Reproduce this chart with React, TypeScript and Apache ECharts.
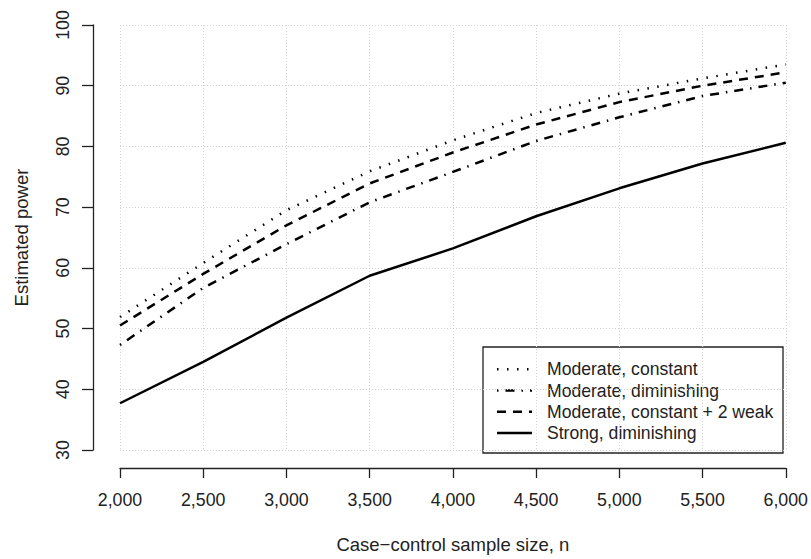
import React, { useEffect, useRef } from "react";
import * as echarts from "echarts";

const sampleSizes = [2000, 2500, 3000, 3500, 4000, 4500, 5000, 5500, 6000];
const moderateConstant = [51.9, 60.8, 69.5, 75.9, 81.0, 85.5, 88.7, 91.2, 93.5];
const moderateDiminishing = [47.3, 56.7, 63.9, 70.8, 75.8, 80.9, 84.8, 88.3, 90.5];
const moderateConstantWeak = [50.5, 59.0, 67.0, 73.9, 79.0, 83.6, 87.3, 90.0, 92.2];
const strongDiminishing = [37.7, 44.5, 51.8, 58.7, 63.2, 68.5, 73.1, 77.2, 80.6];

const seriesNames = [
  "Moderate, constant",
  "Moderate, diminishing",
  "Moderate, constant + 2 weak",
  "Strong, diminishing",
];
const seriesValues = [moderateConstant, moderateDiminishing, moderateConstantWeak, strongDiminishing];
const dashTypes: any[] = [[1.5, 8.5], [1.5, 7, 9, 7], [9, 7], null];

const FONT = "'Liberation Sans', Arial, Helvetica, sans-serif";
const INK = "#222";

export default function App() {
  const ref = useRef<HTMLDivElement>(null);
  useEffect(() => {
    if (!ref.current) return;
    const chart = echarts.init(ref.current, undefined, { renderer: "svg" });

    const legendLeft = 483;
    const legendTop = 347;
    const legendW = 300;
    const legendH = 106;
    const rowY0 = 369.3;
    const rowStep = 21.2;
    const legendChildren: any[] = [
      {
        type: "rect",
        shape: { x: legendLeft, y: legendTop, width: legendW, height: legendH },
        style: { fill: "#fff", stroke: INK, lineWidth: 1.3 },
      },
    ];
    seriesNames.forEach((name, i) => {
      const y = rowY0 + i * rowStep;
      legendChildren.push({
        type: "line",
        shape: { x1: 497, y1: y, x2: 532, y2: y },
        style: {
          stroke: "#000",
          lineWidth: 2.5,
          lineDash: dashTypes[i] || undefined,
        },
      });
      legendChildren.push({
        type: "text",
        x: 547,
        y,
        style: {
          text: name,
          fontSize: 17.6,
          fontFamily: FONT,
          fill: INK,
          verticalAlign: "middle",
          align: "left",
        },
      });
    });

    const option: any = {
      animation: false,
      backgroundColor: "#fff",
      textStyle: { fontFamily: FONT },
      grid: { left: 120, right: 22, top: 25, bottom: 101, containLabel: false },
      xAxis: {
        type: "value",
        min: 2000,
        max: 6000,
        interval: 500,
        offset: 18,
        name: "Case\u2212control sample size, n",
        nameLocation: "middle",
        nameGap: 67,
        nameTextStyle: { fontSize: 18.5, color: INK, fontFamily: FONT },
        axisLine: { show: true, lineStyle: { color: INK, width: 1.3 } },
        axisTick: { show: true, length: 10, inside: false, lineStyle: { color: INK, width: 1.3 } },
        axisLabel: {
          fontSize: 17.8,
          color: INK,
          fontFamily: FONT,
          margin: 23,
          showMinLabel: true,
          showMaxLabel: true,
          formatter: (v: number) => v.toLocaleString("en-US"),
        },
        splitLine: { show: true, lineStyle: { color: "#d3d3d3", type: [1, 2], width: 1 } },
      },
      yAxis: {
        type: "value",
        min: 30,
        max: 100,
        interval: 10,
        offset: 27,
        name: "Estimated power",
        nameLocation: "middle",
        nameGap: 62,
        nameRotate: 90,
        nameTextStyle: { fontSize: 18.5, color: INK, fontFamily: FONT },
        axisLine: { show: true, lineStyle: { color: INK, width: 1.3 } },
        axisTick: { show: true, length: 11, inside: false, lineStyle: { color: INK, width: 1.3 } },
        axisLabel: {
          fontSize: 17.8,
          color: INK,
          fontFamily: FONT,
          rotate: 90,
          margin: 21,
          showMinLabel: true,
          showMaxLabel: true,
        },
        splitLine: { show: true, lineStyle: { color: "#d3d3d3", type: [1, 2], width: 1 } },
      },
      legend: { show: false },
      graphic: [{ type: "group", z: 100, children: legendChildren }],
      series: seriesNames.map((name, i) => ({
        name,
        type: "line",
        symbol: "none",
        showSymbol: false,
        data: sampleSizes.map((x, j) => [x, seriesValues[i][j]]),
        lineStyle: { color: "#000", width: 2.5, type: dashTypes[i] || "solid" },
        itemStyle: { color: "#000" },
        z: 3,
      })),
    };
    chart.setOption(option);
    return () => chart.dispose();
  }, []);
  return (
    <div
      ref={ref}
      style={{ position: "absolute", left: 0, top: 0, width: 811, height: 559, background: "#fff" }}
    />
  );
}
